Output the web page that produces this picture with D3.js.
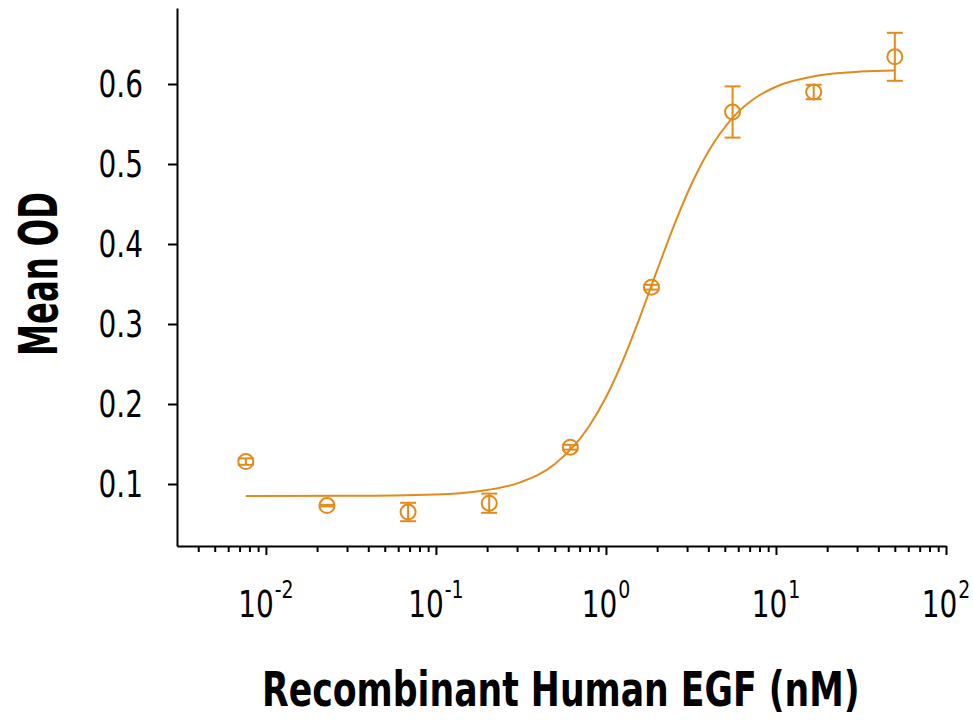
<!DOCTYPE html>
<html>
<head>
<meta charset="utf-8">
<script src="https://cdn.jsdelivr.net/npm/d3@7"></script>
<style>
  html, body { margin: 0; padding: 0; background: #fff; }
  svg { display: block; }
  .lbl { font-family: "Liberation Sans Narrow", "DejaVu Sans Condensed", "Roboto", sans-serif; }
</style>
</head>
<body>
<svg id="chart" width="973" height="720"></svg>
<script>
// ---- data ----
const concentrationsNM = [50, 16.67, 5.556, 1.852, 0.6173, 0.2058, 0.0686, 0.02286, 0.00762];
const meanOD = [0.634, 0.590, 0.565, 0.346, 0.146, 0.076, 0.065, 0.073, 0.128];
const sdOD = [0.030, 0.009, 0.032, 0.003, 0.003, 0.012, 0.0115, 0.001, 0.004];

// fitted curve
const fitX = [0.00762, 0.0316, 0.1, 0.178, 0.316, 0.501, 0.794, 1.0, 1.259, 1.585, 1.995, 2.512, 3.162, 3.981, 5.623, 7.943, 10, 17.78, 31.62, 50];
const fitY = [0.0850, 0.0852, 0.0870, 0.0910, 0.1024, 0.1250, 0.1718, 0.2084, 0.2546, 0.3087, 0.3666, 0.4230, 0.4734, 0.5147, 0.5589, 0.5856, 0.5966, 0.6106, 0.6155, 0.6170];

const yTickValues = [0.1, 0.2, 0.3, 0.4, 0.5, 0.6];
const yTickLabels = ["0.1", "0.2", "0.3", "0.4", "0.5", "0.6"];
const xMajorTicks = [0.01, 0.1, 1, 10, 100];
const xTickBase = ["10", "10", "10", "10", "10"];
const xTickExponents = ["-2", "-1", "0", "1", "2"];
const xMinorTicks = [0.004, 0.005, 0.006, 0.007, 0.008, 0.009,
  0.02, 0.03, 0.04, 0.05, 0.06, 0.07, 0.08, 0.09,
  0.2, 0.3, 0.4, 0.5, 0.6, 0.7, 0.8, 0.9,
  2, 3, 4, 5, 6, 7, 8, 9,
  20, 30, 40, 50, 60, 70, 80, 90];

const xTitle = "Recombinant Human EGF (nM)";
const yTitle = "Mean OD";

// ---- styles / layout ----
const orange = "#E38A1C";
const condense = 0.84;   // horizontal squeeze to mimic a condensed face

// ---- chart ----
const svg = d3.select("#chart");
svg.append("rect").attr("width", 973).attr("height", 720).attr("fill", "#fff");

const x = d3.scaleLog().domain([0.003, 100]).range([177, 946]);
const y = d3.scaleLinear().domain([0.0225, 0.695]).range([546, 8]);

// x axis minor ticks
const gxMinor = svg.append("g").attr("transform", `translate(0,${y.range()[0]})`)
  .call(d3.axisBottom(x).tickValues(xMinorTicks).tickSize(6).tickFormat(""));
gxMinor.select(".domain").remove();
gxMinor.selectAll("line").attr("stroke", "#000").attr("stroke-width", 2);

// x axis major ticks + domain
const gx = svg.append("g").attr("transform", `translate(0,${y.range()[0]})`)
  .call(d3.axisBottom(x).tickValues(xMajorTicks).tickSize(9).tickSizeOuter(0).tickFormat(""));
gx.select(".domain").attr("stroke", "#000").attr("stroke-width", 2);
gx.selectAll("line").attr("stroke", "#000").attr("stroke-width", 2);

// x tick labels: "10" plus superscript exponent, centred on tick
const xl = svg.append("g").attr("class", "lbl");
xMajorTicks.forEach((v, i) => {
  const grp = xl.append("g");
  const base = grp.append("text").attr("x", 0).attr("y", 0)
    .attr("font-size", 37).attr("fill", "#000").text(xTickBase[i]);
  const bw = base.node().getComputedTextLength();
  const ex = grp.append("text").attr("x", bw + 1).attr("y", -19)
    .attr("font-size", 25).attr("fill", "#000").text(xTickExponents[i]);
  const total = bw + 1 + ex.node().getComputedTextLength();
  grp.attr("transform", `translate(${x(v) - total * condense / 2},617) scale(${condense},1)`);
});

// y axis (ticks + line)
const gy = svg.append("g").attr("transform", `translate(${x.range()[0]},0)`)
  .call(d3.axisLeft(y).tickValues(yTickValues).tickSize(9).tickSizeOuter(0).tickFormat(""));
gy.select(".domain").attr("stroke", "#000").attr("stroke-width", 2);
gy.selectAll("line").attr("stroke", "#000").attr("stroke-width", 2);

// y tick labels
const yl = svg.append("g").attr("class", "lbl");
yTickValues.forEach((v, i) => {
  yl.append("text")
    .attr("transform", `translate(143,${y(v) + 13}) scale(${condense},1)`)
    .attr("text-anchor", "end")
    .attr("font-size", 37).attr("fill", "#000")
    .text(yTickLabels[i]);
});

// fitted curve
const fitData = fitX.map((v, i) => [v, fitY[i]]);
svg.append("path")
  .datum(fitData)
  .attr("fill", "none")
  .attr("stroke", orange)
  .attr("stroke-width", 2)
  .attr("d", d3.line().x(d => x(d[0])).y(d => y(d[1])).curve(d3.curveMonotoneX));

// points with error bars
const pts = concentrationsNM.map((c, i) => ({ c, m: meanOD[i], s: sdOD[i] }));
const g = svg.append("g").attr("stroke", orange).attr("stroke-width", 2).attr("fill", "none");
const capW = 8;
pts.forEach(p => {
  const cx = x(p.c);
  g.append("line").attr("x1", cx).attr("x2", cx).attr("y1", y(p.m - p.s)).attr("y2", y(p.m + p.s));
  g.append("line").attr("x1", cx - capW).attr("x2", cx + capW).attr("y1", y(p.m + p.s)).attr("y2", y(p.m + p.s));
  g.append("line").attr("x1", cx - capW).attr("x2", cx + capW).attr("y1", y(p.m - p.s)).attr("y2", y(p.m - p.s));
  g.append("circle").attr("cx", cx).attr("cy", y(p.m)).attr("r", 7.5);
});

// axis titles, squeezed horizontally to the reference width
const xt = svg.append("text").attr("class", "lbl")
  .attr("font-size", 48).attr("font-weight", "bold").attr("fill", "#000")
  .text(xTitle);
const xtw = xt.node().getComputedTextLength();
xt.attr("transform", `translate(262,706) scale(${598 / xtw},1)`);

const yt = svg.append("text").attr("class", "lbl")
  .attr("font-size", 54).attr("font-weight", "bold").attr("fill", "#000")
  .text(yTitle);
const ytw = yt.node().getComputedTextLength();
yt.attr("transform", `translate(57,356) rotate(-90) scale(${164 / ytw},1)`);
</script>
</body>
</html>
